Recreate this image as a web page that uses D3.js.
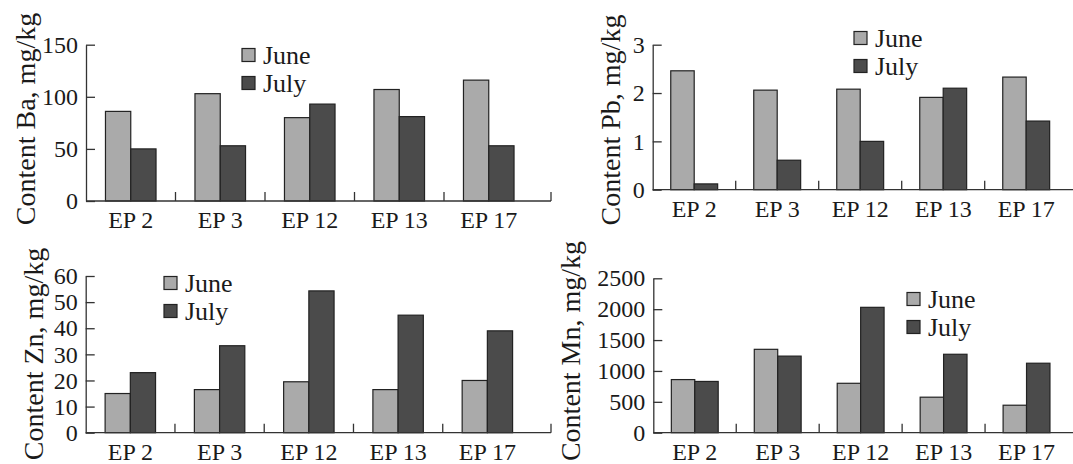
<!DOCTYPE html>
<html>
<head>
<meta charset="utf-8">
<script src="https://cdn.jsdelivr.net/npm/d3@7"></script>
<style>
  html, body { margin: 0; padding: 0; background: #fff; }
  svg { display: block; }
</style>
</head>
<body>
<svg id="chart" width="1073" height="464"></svg>
<script>
'use strict';

// categories / series
var sites = ['EP 2', 'EP 3', 'EP 12', 'EP 13', 'EP 17'];
var months = ['June', 'July'];

// values (mg/kg)
var baJune = [86, 103, 80, 107, 116];
var baJuly = [50, 53, 93, 81, 53];
var pbJune = [2.46, 2.06, 2.08, 1.91, 2.33];
var pbJuly = [0.12, 0.61, 1.0, 2.1, 1.42];
var znJune = [15, 16.5, 19.5, 16.5, 20];
var znJuly = [23, 33.3, 54.3, 45, 39];
var mnJune = [860, 1350, 800, 575, 445];
var mnJuly = [830, 1240, 2030, 1270, 1125];

// y tick labels
var baTicks = [0, 50, 100, 150];
var pbTicks = [0, 1, 2, 3];
var znTicks = [0, 10, 20, 30, 40, 50, 60];
var mnTicks = [0, 500, 1000, 1500, 2000, 2500];

var colors = { June: '#aaaaaa', July: '#4b4b4b' };
var FONT = "'Liberation Serif', 'Times New Roman', Times, serif";

var svg = d3.select('#chart')
  .attr('font-family', FONT);

// panel layout
var panels = [
  { label: 'Content Ba, mg/kg', june: baJune, july: baJuly, ticks: baTicks,
    x0: 86, x1: 533.5, axisEnd: 551, yBot: 201, yTop: 44.7,
    labX: 35, labY: 119, legX: 242, legY: 55 },
  { label: 'Content Pb, mg/kg', june: pbJune, july: pbJuly, ticks: pbTicks,
    x0: 652.7, x1: 1067.7, axisEnd: 1080, yBot: 189.7, yTop: 44.7,
    labX: 620, labY: 120, legX: 854, legY: 38 },
  { label: 'Content Zn, mg/kg', june: znJune, july: znJuly, ticks: znTicks,
    x0: 85.7, x1: 532, axisEnd: 551, yBot: 432.7, yTop: 276,
    labX: 43, labY: 354, legX: 164, legY: 283 },
  { label: 'Content Mn, mg/kg', june: mnJune, july: mnJuly, ticks: mnTicks,
    x0: 653.3, x1: 1068, axisEnd: 1080, yBot: 432.7, yTop: 278.3,
    labX: 580, labY: 351, legX: 907, legY: 299 }
];

panels.forEach(drawPanel);

function drawPanel(p) {
  var g = svg.append('g');

  var x = d3.scaleBand().domain(sites).range([p.x0, p.x1]).padding(0);
  var xs = d3.scaleBand().domain(months).range([0, x.bandwidth()])
    .paddingInner(0).paddingOuter(0.77);
  var y = d3.scaleLinear()
    .domain([0, p.ticks[p.ticks.length - 1]])
    .range([p.yBot, p.yTop]);

  var rows = sites.map(function (s, i) {
    return { site: s, June: p.june[i], July: p.july[i] };
  });

  // bars
  g.append('g').selectAll('g')
    .data(rows)
    .enter().append('g')
    .attr('transform', function (d) { return 'translate(' + x(d.site) + ',0)'; })
    .selectAll('rect')
    .data(function (d) { return months.map(function (m) { return { m: m, v: d[m] }; }); })
    .enter().append('rect')
    .attr('x', function (d) { return xs(d.m); })
    .attr('width', xs.bandwidth())
    .attr('y', function (d) { return y(d.v); })
    .attr('height', function (d) { return y(0) - y(d.v); })
    .attr('fill', function (d) { return colors[d.m]; })
    .attr('stroke', '#222')
    .attr('stroke-width', 1.2);

  // y axis, ticks pointing inward
  var ya = g.append('g')
    .attr('transform', 'translate(' + p.x0 + ',0)')
    .call(d3.axisLeft(y).tickValues(p.ticks).tickFormat(d3.format('d'))
      .tickSizeInner(-9).tickSizeOuter(0).tickPadding(8));
  ya.attr('font-family', FONT).attr('font-size', 24);
  ya.selectAll('text').attr('fill', '#1a1a1a');
  ya.selectAll('line, path').attr('stroke', '#333').attr('stroke-width', 1.3);

  // x axis labels
  var xa = g.append('g')
    .attr('transform', 'translate(0,' + p.yBot + ')')
    .call(d3.axisBottom(x).tickSize(0).tickPadding(10));
  xa.attr('font-family', FONT).attr('font-size', 24);
  xa.select('.domain').remove();
  xa.selectAll('text').attr('fill', '#1a1a1a');

  // x axis line + separator ticks
  g.append('line')
    .attr('x1', p.x0).attr('x2', p.axisEnd)
    .attr('y1', p.yBot).attr('y2', p.yBot)
    .attr('stroke', '#333').attr('stroke-width', 1.3);
  var seps = sites.slice(1).map(function (s) { return x(s); }).concat([p.axisEnd]);
  g.append('g').selectAll('line')
    .data(seps)
    .enter().append('line')
    .attr('x1', function (d) { return d; }).attr('x2', function (d) { return d; })
    .attr('y1', p.yBot).attr('y2', p.yBot - 9)
    .attr('stroke', '#333').attr('stroke-width', 1.3);

  // y label
  g.append('text')
    .attr('transform', 'translate(' + p.labX + ',' + p.labY + ') rotate(-90)')
    .attr('text-anchor', 'middle')
    .attr('font-size', 28)
    .attr('fill', '#1a1a1a')
    .text(p.label);

  // legend
  var leg = g.append('g').selectAll('g')
    .data(months)
    .enter().append('g')
    .attr('transform', function (d, i) { return 'translate(' + p.legX + ',' + (p.legY + i * 28) + ')'; });
  leg.append('rect')
    .attr('x', 0).attr('y', -6.5)
    .attr('width', 13).attr('height', 13)
    .attr('fill', function (d) { return colors[d]; })
    .attr('stroke', '#222').attr('stroke-width', 1.2);
  leg.append('text')
    .attr('x', 21).attr('dy', '0.33em')
    .attr('font-size', 26)
    .attr('fill', '#1a1a1a')
    .text(function (d) { return d; });
}
</script>
</body>
</html>
